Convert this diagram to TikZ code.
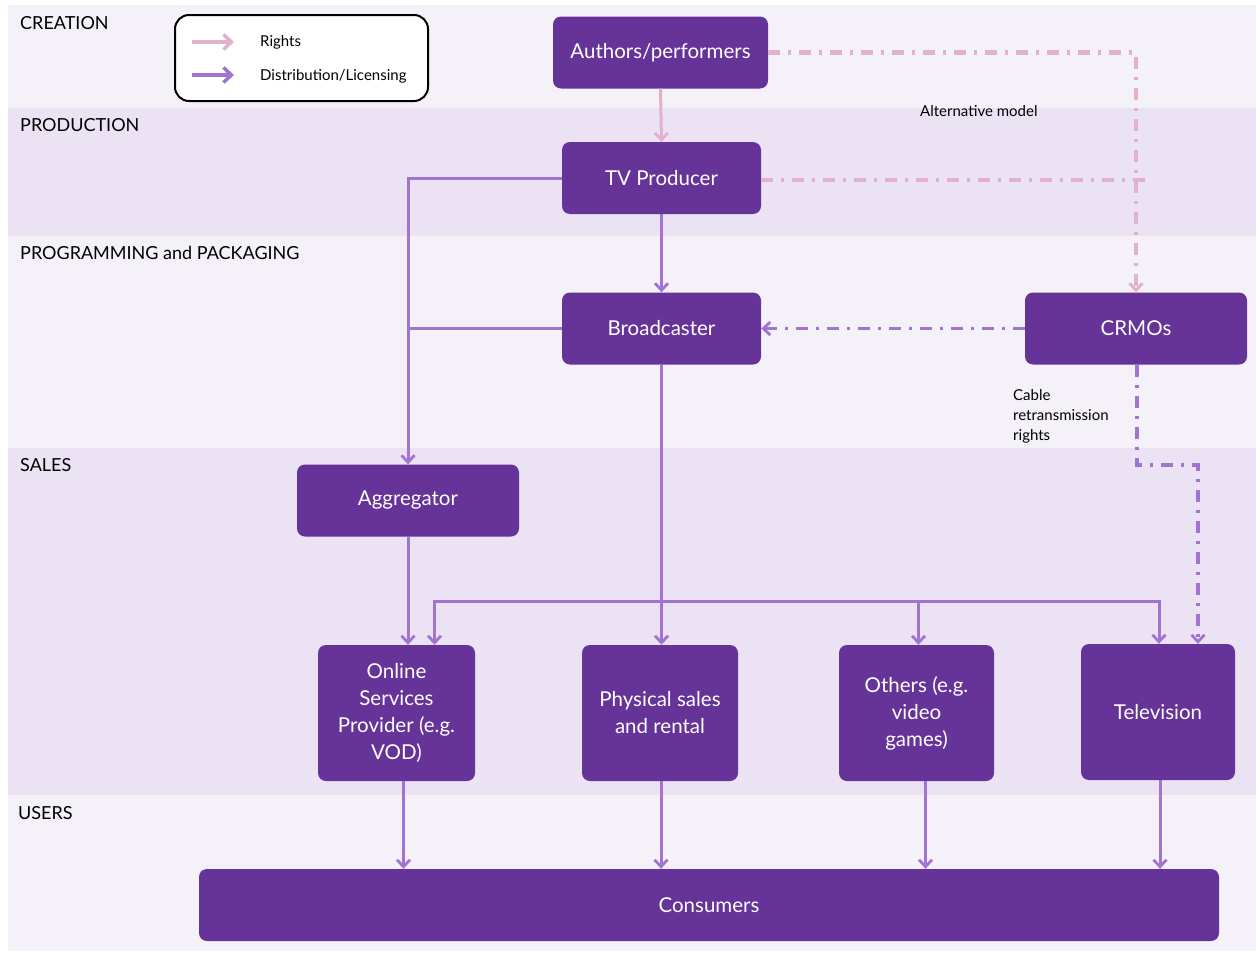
\documentclass[tikz,border=0pt]{standalone}
\usepackage{fontspec}
\setmainfont{Lato}
\usetikzlibrary{arrows.meta}
\definecolor{bandlight}{HTML}{F5F1F9}
\definecolor{banddark}{HTML}{EBE3F3}
\definecolor{boxpurple}{HTML}{663399}
\definecolor{distcol}{HTML}{A274D2}
\definecolor{rightscol}{HTML}{E2B2CC}
\tikzset{
  box/.style={rectangle, rounded corners=8pt, fill=boxpurple, text=white,
    align=center, font=\fontsize{20.5}{27}\selectfont, inner sep=0pt},
  bandlabel/.style={anchor=north west, inner sep=0pt, font=\fontsize{18}{21}\selectfont},
  smalltext/.style={inner sep=0pt, font=\fontsize{15}{20}\selectfont},
  tip/.style={-{Straight Barb[length=7pt,width=13pt,line width=2.8pt]}},
  dist/.style={draw=distcol, line width=3pt},
  rights/.style={draw=rightscol, line width=3pt},
  dashdot/.style={line width=4.5pt, dash pattern=on 12pt off 8pt on 3pt off 8pt},
}
\begin{document}
\begin{tikzpicture}[x=1pt,y=-1pt]
  \useasboundingbox (0,0) rectangle (1256,953);
  \fill[white] (0,0) rectangle (1256,953);
  % horizontal value-chain bands
  \fill[bandlight] (8,5) rectangle (1256,108);
  \fill[banddark] (8,108) rectangle (1256,236);
  \fill[bandlight] (8,236) rectangle (1256,448);
  \fill[banddark] (8,448) rectangle (1256,795);
  \fill[bandlight] (8,795) rectangle (1256,951);
  \node[bandlabel] (lcre) at (20,16) {CREATION};
  \node[bandlabel] (lpro) at (20,118) {PRODUCTION};
  \node[bandlabel] (lprg) at (20,246) {PROGRAMMING and PACKAGING};
  \node[bandlabel] (lsal) at (20,458) {SALES};
  \node[bandlabel] (lusr) at (18,806) {USERS};

  % legend
  \node[draw=black, line width=2pt, rounded corners=14pt, minimum width=253pt,
        minimum height=86pt, fill=white] (legend) at (301.5,58) {};
  \coordinate (lr1) at (192,42);
  \coordinate (lr2) at (234,42);
  \coordinate (ld1) at (192,75);
  \coordinate (ld2) at (234,75);
  \draw[draw=rightscol, line width=4pt, -{Straight Barb[length=8pt,width=15pt,line width=3.5pt]}] (lr1) -- (lr2);
  \draw[draw=distcol, line width=4pt, -{Straight Barb[length=8pt,width=15pt,line width=3.5pt]}] (ld1) -- (ld2);
  \node[smalltext, anchor=west] (lrt) at (260,42) {Rights};
  \node[smalltext, anchor=west] (ldt) at (260,76) {Distribution/Licensing};

  % actors
  \node[box, minimum width=215pt, minimum height=72pt] (auth) at (660.5,52.5) {Authors/performers};
  \node[box, minimum width=199pt, minimum height=72pt] (tvp) at (661.5,178) {TV Producer};
  \node[box, minimum width=199pt, minimum height=72pt] (bro) at (661.5,328.5) {Broadcaster};
  \node[box, minimum width=222pt, minimum height=72pt] (crmo) at (1136,328.5) {CRMOs};
  \node[box, minimum width=222pt, minimum height=72pt] (agg) at (408,500.5) {Aggregator};
  \node[box, minimum width=157pt, minimum height=136pt] (osp) at (396.5,713) {Online\\Services\\Provider (e.g.\\VOD)};
  \node[box, minimum width=156pt, minimum height=136pt] (phys) at (660,713) {Physical sales\\and rental};
  \node[box, minimum width=155pt, minimum height=136pt] (oth) at (916.5,713) {Others (e.g.\\video\\games)};
  \node[box, minimum width=154pt, minimum height=136pt] (tv) at (1158,712) {Television};
  \node[box, minimum width=1020pt, minimum height=72pt] (cons) at (709,905) {Consumers};

  % annotations
  \node[smalltext, anchor=west] (alt) at (920,111) {Alternative model};
  \node[smalltext, anchor=north west, align=left] (cable) at (1013,389) {Cable\\retransmission\\rights};

  % rights flows
  \draw[rights, tip] (auth.south) -- (tvp.north);
  \draw[draw=rightscol, dashdot, tip] (auth.east) -| (crmo.north);
  \coordinate (tvpend) at (1150,180);
  \draw[draw=rightscol, dashdot] (tvp.east |- tvpend) -- (tvpend);

  % distribution flows
  \draw[dist, tip] (tvp.south) -- (bro.north);
  \draw[dist, tip] (tvp.west) -| (agg.north);
  \draw[dist] (bro.west) -- (bro.west -| agg.north);
  \draw[draw=distcol, dashdot, line width=3.5pt, tip] (crmo.west) -- (bro.east);
  \coordinate (bus) at (662,601);
  \draw[dist, tip] (bro.south) -- (bro.south |- phys.north);
  \draw[dist, tip] (bus) -| ([xshift=38pt]osp.north);
  \draw[dist, tip] (bus) -| ([xshift=2pt]oth.north);
  \draw[dist, tip] (bus) -| ([xshift=1pt]tv.north);
  \draw[dist, tip] (agg.south) -- (agg.south |- osp.north);
  \coordinate (cablebend) at (1137,465);
  \draw[draw=distcol, dashdot, line width=3.5pt, tip] ([xshift=1pt]crmo.south) -- (cablebend) -| ([xshift=40pt]tv.north);

  % to consumers
  \draw[dist, tip] ([xshift=7pt]osp.south) -- ([xshift=7pt]osp.south |- cons.north);
  \draw[dist, tip] ([xshift=1pt]phys.south) -- ([xshift=1pt]phys.south |- cons.north);
  \draw[dist, tip] ([xshift=9pt]oth.south) -- ([xshift=9pt]oth.south |- cons.north);
  \draw[dist, tip] ([xshift=2pt]tv.south) -- ([xshift=2pt]tv.south |- cons.north);
\end{tikzpicture}
\end{document}
